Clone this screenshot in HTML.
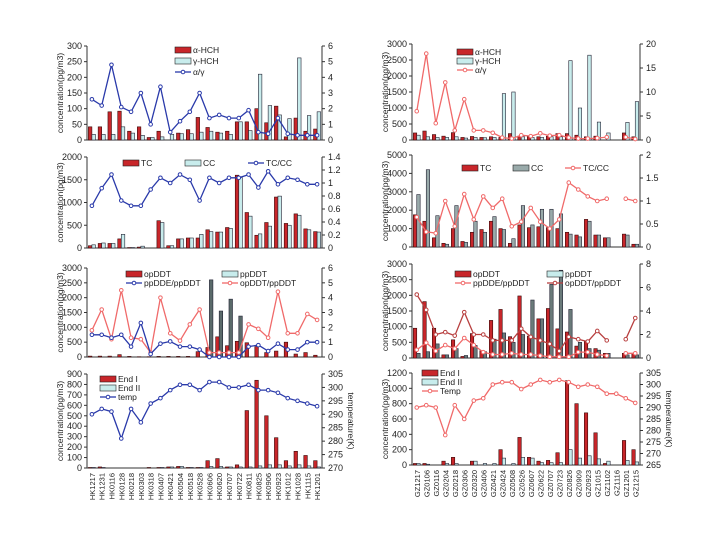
<!DOCTYPE html>
<html><head><meta charset="utf-8"><style>
html,body{margin:0;padding:0;background:#fff;}
svg{display:block;font-family:"Liberation Sans",sans-serif;}
</style></head><body>
<svg id="fig" width="720" height="540" viewBox="0 0 720 540" xmlns="http://www.w3.org/2000/svg"></svg>
<script>
const hkCats=["HK1217","HK1231","HK0116","HK0128","HK0218","HK0303","HK0318","HK0407","HK0421","HK0504","HK0518","HK0528","HK0606","HK0620","HK0707","HK0722","HK0811","HK0825","HK0906","HK0923","HK1012","HK1028","HK1115","HK1201"];
const gzCats=["GZ1217","GZ0106","GZ0116","GZ0204","GZ0218","GZ0306","GZ0320","GZ0406","GZ0421","GZ0424","GZ0508","GZ0526","GZ0607","GZ0622","GZ0707","GZ0723","GZ0826","GZ0909","GZ0923","GZ1015","GZ1102","GZ1116","GZ1201","GZ1215"];
// HK panel 1
const hkAlpha=[42,42,90,92,28,42,8,28,0,22,33,72,40,25,28,58,58,100,55,108,10,70,28,35];
const hkGamma=[18,18,18,42,22,15,8,10,18,20,20,25,28,22,18,58,30,210,110,80,68,262,78,90];
const hkAG=[2.6,2.2,4.8,2.1,1.8,3,1,3.4,0.5,1.2,1.8,3,1.4,1.6,1.4,1.4,1.9,0.5,0.4,1.4,0.4,0.3,0.3,0.3];
// HK panel 2
const hkTC=[50,100,100,200,10,20,0,600,50,200,220,220,400,350,450,1600,780,280,560,1120,540,750,420,360];
const hkCC=[70,110,100,300,10,40,0,560,50,200,220,300,360,350,430,1550,700,310,480,1140,500,720,400,350];
const hkTCCC=[0.65,0.92,1.13,0.73,0.65,0.65,0.9,1.08,1.0,1.13,1.05,0.73,1.08,1.0,1.08,1.08,1.13,0.93,1.18,0.98,1.08,1.05,0.98,0.98];
// HK panel 3
const hkOP=[30,30,30,80,20,10,10,20,20,20,20,180,320,680,380,530,480,350,150,200,500,100,150,60];
const hkPP=[0,0,0,0,0,0,0,0,0,0,0,0,2600,1550,1950,1380,0,0,0,0,0,0,0,0];
const hkDDE=[1.5,1.5,1.3,1.5,0.7,2.3,0.2,0.9,1.05,0.7,0.7,0.5,0,0,0,0,0.7,0.8,0.4,0.9,0.5,0.5,1,1];
const hkOPPP=[1.8,3.2,1.2,4.5,1.3,1.2,0.3,4,1.6,1.1,2.2,3.2,0.3,0.3,0.3,0.3,2.2,1.9,1.3,4.4,1.6,1.6,2.9,2.5];
// HK panel 4
const hkEnd1=[5,10,0,0,0,0,5,5,10,15,5,5,70,90,10,30,550,840,500,290,70,160,120,70];
const hkEnd2=[5,5,0,0,0,0,0,5,10,15,5,5,15,15,10,10,10,20,30,30,20,30,20,10];
const hkTemp=[290,292,291,281,292,287,294,296,299,301,301,299,302,302,300,300,301,299,299,298,296,295,294,293];
// GZ panel 1
const gzAlpha=[220,280,170,120,230,80,110,80,100,80,200,120,100,100,120,200,200,150,100,120,0,0,220,100];
const gzGamma=[150,100,80,80,100,60,80,70,80,1450,1500,100,80,80,100,100,2480,1000,2650,560,220,0,550,1200];
const gzAG=[6,18,3.5,12,2,8.5,2,2,1.5,0.5,0.3,1,0.8,1.4,0.9,1,0.5,0.3,0.3,0.4,0.6,null,0.6,0.2];
// GZ panel 2
const gzTC=[1750,1400,500,200,1000,300,800,950,1400,1000,200,1200,1050,1100,1050,1000,800,650,1500,650,500,0,700,150];
const gzCC=[2850,4200,1700,150,2250,250,1400,800,1650,950,450,2250,1200,2050,2050,1800,700,550,1400,650,500,0,650,150];
const gzTCCC=[0.65,0.33,0.3,1,0.45,1.15,0.6,1.1,0.85,1.05,0.45,0.55,0.85,0.55,0.4,0.6,1.4,1.25,1.1,1,1.05,null,1.05,1];
// GZ panel 3
const gzOP=[950,1800,950,100,580,50,780,230,1200,1550,680,1980,700,1250,1580,930,830,380,530,300,150,0,150,150];
const gzPP=[150,200,450,100,300,80,400,200,600,800,500,750,1850,1250,2350,2800,1550,500,300,250,150,0,100,100];
const gzDDE=[0.7,1.3,0.6,1.1,0.8,1.7,1.1,0.5,0.3,0.3,0.4,0.3,0.3,0.2,0.1,0.1,0.1,0.5,0.5,0.3,0.2,null,0.4,0.4];
const gzOPPP=[5.4,4.1,2,2.2,1.9,3.9,2,2,1.5,1.5,1.5,2.5,1.8,1.5,1.2,0.6,1.8,1.6,1.4,2.3,1.5,null,1.6,3.4];
// GZ panel 4
const gzEnd1=[20,20,0,50,100,0,50,0,0,200,0,360,100,50,60,160,1100,800,680,420,20,0,320,200];
const gzEnd2=[20,10,0,20,20,0,50,20,20,90,20,100,90,30,30,30,200,90,120,80,50,0,60,40];
const gzTemp=[290,291,290,278,291,285,293,294,300,301,301,298,300,302,301,302,301,299,300,299,296,296,294,292];

const svg=document.getElementById('fig');
const NS='http://www.w3.org/2000/svg';
function mk(tag,attrs,parent){const e=document.createElementNS(NS,tag);for(const k in attrs)e.setAttribute(k,attrs[k]);(parent||svg).appendChild(e);return e;}

function panel(p){
  const g=mk('g',{});
  
  
  const n=p.cats.length, bw=(p.x1-p.x0)/n;
  const xc=i=>p.x0+bw*(i+0.5);
  const yL=v=>p.yb-(v-p.lmin)/(p.lmax-p.lmin)*(p.yb-p.yt);
  const yR=v=>p.yb-(v-p.rmin)/(p.rmax-p.rmin)*(p.yb-p.yt);
  // axes
  mk('line',{x1:p.x0,y1:p.yt,x2:p.x0,y2:p.yb,stroke:'#333','stroke-width':1},g);
  mk('line',{x1:p.x0,y1:p.yb,x2:p.x1,y2:p.yb,stroke:'#333','stroke-width':1},g);
  mk('line',{x1:p.x1,y1:p.yt,x2:p.x1,y2:p.yb,stroke:'#333','stroke-width':1},g);
  p.lticks.forEach(t=>{const y=yL(t);mk('line',{x1:p.x0-3,y1:y,x2:p.x0,y2:y,stroke:'#333'},g);
    const tx=mk('text',{x:p.x0-5,y:y+3,'font-size':9,'text-anchor':'end',fill:'#222'},g);tx.textContent=t;});
  p.rticks.forEach(t=>{const y=yR(t);mk('line',{x1:p.x1,y1:y,x2:p.x1+3,y2:y,stroke:'#333'},g);
    const tx=mk('text',{x:p.x1+6,y:y+3,'font-size':9,fill:'#222'},g);tx.textContent=t;});
  // bars
  const w=Math.max(2.5,bw*0.36);
  p.b1.forEach((v,i)=>{if(!v)return;const y=yL(Math.min(v,p.lmax));
    const r=mk('rect',{x:xc(i)-w,y:y,width:w,height:p.yb-y,fill:'#c8262a',stroke:'#3a0a0a','stroke-width':0.6},g);
    });
  p.b2.forEach((v,i)=>{if(!v)return;const y=yL(Math.min(v,p.lmax));
    const r=mk('rect',{x:xc(i),y:y,width:w,height:p.yb-y,fill:p.c2,stroke:'#223','stroke-width':0.6},g);
    });
  // lines
  p.lines.forEach(L=>{
    let d='',pen=false;
    L.vals.forEach((v,i)=>{if(v==null){pen=false;return;}d+=(pen?'L':'M')+xc(i).toFixed(1)+' '+yR(v).toFixed(1);pen=true;});
    const path=mk('path',{d:d,fill:'none',stroke:L.color,'stroke-width':1.3},g);
    
    L.vals.forEach((v,i)=>{if(v==null)return;
      const m=mk('circle',{cx:xc(i),cy:yR(v),r:1.8,fill:'#fff',stroke:L.color,'stroke-width':1},g);
      });
  });
  // legend
  p.legend.forEach(l=>{
    const lg=mk('g',{},g);
    
    if(l.type==='bar')mk('rect',{x:l.x,y:l.y-5,width:16,height:6,fill:l.color,stroke:'#222','stroke-width':0.6},lg);
    else{mk('line',{x1:l.x,y1:l.y-2,x2:l.x+16,y2:l.y-2,stroke:l.color,'stroke-width':1.3},lg);mk('circle',{cx:l.x+8,cy:l.y-2,r:1.8,fill:'#fff',stroke:l.color},lg);}
    const t=mk('text',{x:l.x+18,y:l.y+1,'font-size':8.5,fill:'#222'},lg);t.textContent=l.text;
  });
  // titles
  if(p.ytitle){const t=mk('text',{x:0,y:0,'font-size':8.5,'text-anchor':'middle',fill:'#222',transform:`translate(${p.x0-24},${(p.yt+p.yb)/2}) rotate(-90)`},g);t.textContent=p.ytitle;
    }
  if(p.rtitle){const t=mk('text',{x:0,y:0,'font-size':8.5,'text-anchor':'middle',fill:'#222',transform:`translate(${p.x1+26},${(p.yt+p.yb)/2}) rotate(90)`},g);t.textContent=p.rtitle;
    }
  if(p.xlabels){p.cats.forEach((c,i)=>{const t=mk('text',{x:0,y:0,'font-size':7.5,'text-anchor':'end',fill:'#222',transform:`translate(${xc(i)+3},${p.yb+5}) rotate(-90)`},g);t.textContent=c;
    });}
}
const RED='#f06a6a',BLUE='#2a3aaa',CY='#c8ecec',GR='#9aa';
const LX0=87,LX1=322,RX0=412,RX1=640;
panel({name:'hk-hch-panel',cats:hkCats,x0:LX0,x1:LX1,yt:46,yb:140,lmin:0,lmax:300,rmin:0,rmax:6,lticks:[0,50,100,150,200,250,300],rticks:[0,1,2,3,4,5,6],
 b1:hkAlpha,s1:'alpha-hch',b2:hkGamma,s2:'gamma-hch',c2:CY,lines:[{vals:hkAG,color:BLUE,key:'alpha-gamma'}],
 legend:[{type:'bar',x:175,y:52,color:'#c8262a',text:'α-HCH'},{type:'bar',x:175,y:63,color:CY,text:'γ-HCH'},{type:'line',x:175,y:74,color:BLUE,text:'α/γ'}],ytitle:'concentration(pg/m3)'});
panel({name:'hk-carbon-panel',cats:hkCats,x0:LX0,x1:LX1,yt:157,yb:248,lmin:0,lmax:2000,rmin:0,rmax:1.4,lticks:[0,500,1000,1500,2000],rticks:[0,0.2,0.4,0.6,0.8,1,1.2,1.4],
 b1:hkTC,s1:'tc',b2:hkCC,s2:'cc',c2:CY,lines:[{vals:hkTCCC,color:BLUE,key:'tc-cc'}],
 legend:[{type:'bar',x:123,y:165,color:'#c8262a',text:'TC'},{type:'bar',x:185,y:165,color:CY,text:'CC'},{type:'line',x:248,y:165,color:BLUE,text:'TC/CC'}],ytitle:'concentration(pg/m3)'});
panel({name:'hk-ddt-panel',cats:hkCats,x0:LX0,x1:LX1,yt:268,yb:357,lmin:0,lmax:3000,rmin:0,rmax:6,lticks:[0,500,1000,1500,2000,2500,3000],rticks:[0,1,2,3,4,5,6],
 b1:hkOP,s1:'op-ddt',b2:hkPP,s2:'pp-ddt',c2:'#5a6a6a',lines:[{vals:hkOPPP,color:RED,key:'op-pp-ddt'},{vals:hkDDE,color:BLUE,key:'pp-dde-ddt'}],
 legend:[{type:'bar',x:126,y:276,color:'#c8262a',text:'opDDT'},{type:'bar',x:222,y:276,color:CY,text:'ppDDT'},{type:'line',x:126,y:285,color:BLUE,text:'ppDDE/ppDDT'},{type:'line',x:222,y:285,color:RED,text:'opDDT/ppDDT'}],ytitle:'concentration(pg/m3)'});
panel({name:'hk-endosulfan-panel',cats:hkCats,x0:LX0,x1:LX1,yt:374,yb:468,lmin:0,lmax:900,rmin:270,rmax:305,lticks:[0,100,200,300,400,500,600,700,800,900],rticks:[270,275,280,285,290,295,300,305],
 b1:hkEnd1,s1:'endosulfan-1',b2:hkEnd2,s2:'endosulfan-2',c2:CY,lines:[{vals:hkTemp,color:BLUE,key:'temp'}],
 legend:[{type:'bar',x:100,y:381,color:'#c8262a',text:'End I'},{type:'bar',x:100,y:390,color:CY,text:'End II'},{type:'line',x:100,y:399,color:BLUE,text:'temp'}],ytitle:'concentration(pg/m3)',rtitle:'temperature(K)',xlabels:true});
panel({name:'gz-hch-panel',cats:gzCats,x0:RX0,x1:RX1,yt:44,yb:140,lmin:0,lmax:3000,rmin:0,rmax:20,lticks:[0,500,1000,1500,2000,2500,3000],rticks:[0,5,10,15,20],
 b1:gzAlpha,s1:'alpha-hch',b2:gzGamma,s2:'gamma-hch',c2:CY,lines:[{vals:gzAG,color:RED,key:'alpha-gamma'}],
 legend:[{type:'bar',x:457,y:54,color:'#c8262a',text:'α-HCH'},{type:'bar',x:457,y:63,color:CY,text:'γ-HCH'},{type:'line',x:457,y:72,color:RED,text:'α/γ'}],ytitle:'concentration(pg/m3)'});
panel({name:'gz-carbon-panel',cats:gzCats,x0:RX0,x1:RX1,yt:155,yb:247,lmin:0,lmax:5000,rmin:0,rmax:2,lticks:[0,1000,2000,3000,4000,5000],rticks:[0,0.5,1,1.5,2],
 b1:gzTC,s1:'tc',b2:gzCC,s2:'cc',c2:GR,lines:[{vals:gzTCCC,color:RED,key:'tc-cc'}],
 legend:[{type:'bar',x:462,y:170,color:'#c8262a',text:'TC'},{type:'bar',x:513,y:170,color:GR,text:'CC'},{type:'line',x:565,y:170,color:RED,text:'TC/CC'}],ytitle:'concentration(pg/m3)'});
panel({name:'gz-ddt-panel',cats:gzCats,x0:RX0,x1:RX1,yt:264,yb:358,lmin:0,lmax:3000,rmin:0,rmax:8,lticks:[0,500,1000,1500,2000,2500,3000],rticks:[0,2,4,6,8],
 b1:gzOP,s1:'op-ddt',b2:gzPP,s2:'pp-ddt',c2:'#6a7a7a',lines:[{vals:gzOPPP,color:'#b84040',key:'op-pp-ddt'},{vals:gzDDE,color:RED,key:'pp-dde-ddt'}],
 legend:[{type:'bar',x:455,y:276,color:'#c8262a',text:'opDDT'},{type:'bar',x:547,y:276,color:CY,text:'ppDDT'},{type:'line',x:455,y:285,color:RED,text:'ppDDE/ppDDT'},{type:'line',x:547,y:285,color:'#b84040',text:'opDDT/ppDDT'}],ytitle:'concentration(pg/m3)'});
panel({name:'gz-endosulfan-panel',cats:gzCats,x0:RX0,x1:RX1,yt:373,yb:465,lmin:0,lmax:1200,rmin:265,rmax:305,lticks:[0,200,400,600,800,1000,1200],rticks:[265,270,275,280,285,290,295,300,305],
 b1:gzEnd1,s1:'endosulfan-1',b2:gzEnd2,s2:'endosulfan-2',c2:CY,lines:[{vals:gzTemp,color:RED,key:'temp'}],
 legend:[{type:'bar',x:422,y:375,color:'#c8262a',text:'End I'},{type:'bar',x:422,y:384,color:CY,text:'End II'},{type:'line',x:422,y:393,color:RED,text:'Temp'}],ytitle:'concentration(pg/m3)',rtitle:'temperature(K)',xlabels:true});
</script>
</body></html>
